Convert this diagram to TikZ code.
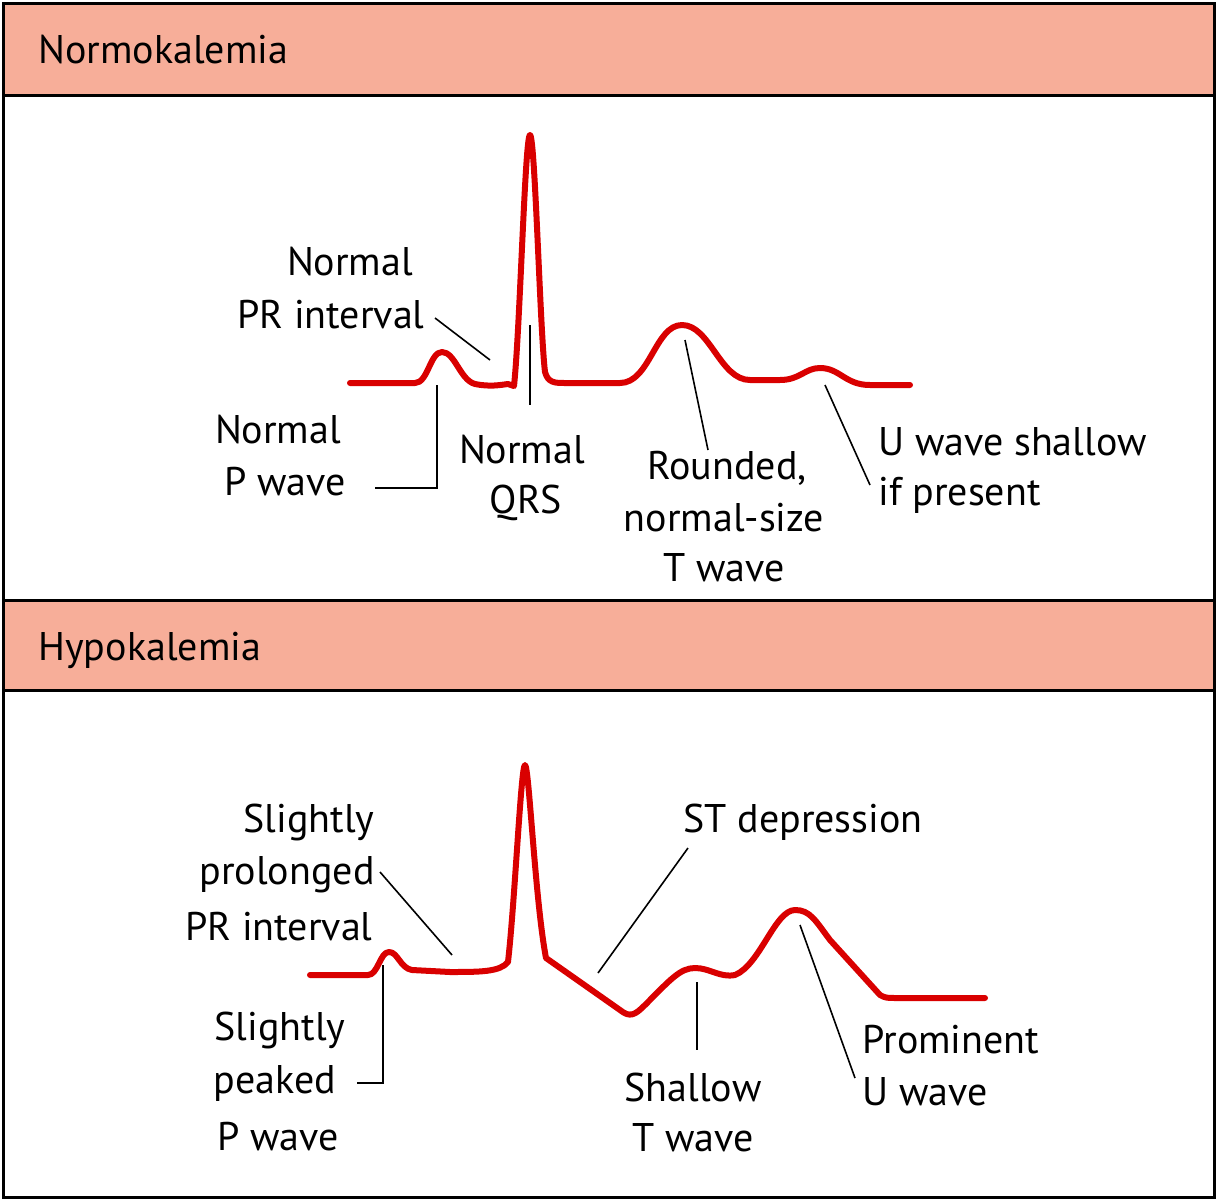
\documentclass[tikz,border=0pt]{standalone}
\usepackage{fontspec}
\setmainfont{PT Sans}
\begin{document}
\begin{tikzpicture}[x=0.5pt,y=-0.5pt,
 lbl/.style={font=\fontsize{20}{22}\selectfont,inner sep=0pt},
 ecg/.style={draw=red!85!black,line width=3pt,line join=round,line cap=round},
 lead/.style={draw=black,line width=0.8pt},
 head/.style={fill=salmon,draw=black,line width=1.5pt}]
\definecolor{salmon}{HTML}{F7AE99}
\useasboundingbox (0,0) rectangle (1217,1200);
\fill[white] (0,0) rectangle (1217,1200);
\draw[head] (3,3) rectangle (1214,95);
\draw[black,line width=1.5pt] (3,95) rectangle (1214,600);
\draw[head] (3,600) rectangle (1214,690);
\draw[black,line width=1.5pt] (3,690) rectangle (1214,1197);
\node[lbl,anchor=west] (h1) at (38,50) {Normokalemia};
\node[lbl,anchor=west] (h2) at (38,650) {Hypokalemia};
% normal ECG
\draw[ecg] (350,383) -- (415,383) .. controls (428,383) and (430,352) .. (442,352)
 .. controls (455,352) and (460,380) .. (475,384) .. controls (490,387) and (500,385) .. (508,384)
 -- (514,386) .. controls (520,330) and (525,135) .. (530,135) .. controls (535,135) and (540,330) .. (545,372)
 .. controls (548,383) and (555,383) .. (565,383) -- (620,383)
 .. controls (650,383) and (655,325) .. (682,325) .. controls (710,325) and (720,380) .. (750,380)
 -- (780,380) .. controls (800,380) and (805,368) .. (820,368) .. controls (840,368) and (845,385) .. (870,385) -- (910,385);
\coordinate (pr) at (490,360); \coordinate (qrs) at (530,325); \coordinate (pw) at (437,385);
\coordinate (tw) at (685,340); \coordinate (uw) at (825,385);
\node[lbl] (n1) at (350,262) {Normal};
\node[lbl,anchor=east] (n2) at (425,315) {PR interval};
\draw[lead] (435,318) -- (pr);
\draw[lead] (qrs) -- (530,405);
\node[lbl] (n3) at (278,430) {Normal};
\node[lbl] (n4) at (285,482) {P wave};
\draw[lead] (375,488) -- (437,488) -- (pw);
\node[lbl] (n5) at (522,450) {Normal};
\node[lbl] (n6) at (526,503) {QRS};
\node[lbl] (n7) at (727,468) {Rounded,};
\node[lbl] (n8) at (724,518) {normal-size};
\node[lbl] (n9) at (724,568) {T wave};
\draw[lead] (tw) -- (708,450);
\node[lbl,anchor=west] (n10) at (878,442) {U wave shallow};
\node[lbl,anchor=west] (n11) at (878,495) {if present};
\draw[lead] (uw) -- (870,485);
% hypo ECG
\draw[ecg] (310,975) -- (368,975) .. controls (378,975) and (380,952) .. (389,952)
 .. controls (398,952) and (400,968) .. (412,970) -- (450,972) .. controls (480,972) and (500,972) .. (508,962)
 .. controls (515,900) and (521,765) .. (525,765) .. controls (529,765) and (535,900) .. (546,958)
 -- (620,1010) .. controls (630,1018) and (635,1015) .. (645,1005)
 .. controls (670,980) and (680,968) .. (695,968) .. controls (710,968) and (720,978) .. (735,975)
 .. controls (760,965) and (775,910) .. (795,910) .. controls (810,910) and (815,920) .. (830,940)
 -- (880,995) .. controls (885,998) and (888,998) .. (895,998) -- (985,998);
\coordinate (hpr) at (452,955); \coordinate (hpw) at (383,965); \coordinate (hst) at (598,973);
\coordinate (htw) at (697,982); \coordinate (huw) at (800,925);
\node[lbl,anchor=east] (m1) at (375,822) {Slightly};
\node[lbl,anchor=east] (m2) at (375,875) {prolonged};
\node[lbl,anchor=east] (m3) at (373,927) {PR interval};
\draw[lead] (380,872) -- (hpr);
\node[lbl] (m4) at (280,1030) {Slightly};
\node[lbl] (m5) at (275,1083) {peaked};
\node[lbl] (m6) at (278,1137) {P wave};
\draw[lead] (357,1083) -- (383,1083) -- (hpw);
\node[lbl,anchor=west] (m7) at (683,822) {ST depression};
\draw[lead] (688,848) -- (hst);
\node[lbl] (m8) at (693,1087) {Shallow};
\node[lbl] (m9) at (693,1138) {T wave};
\draw[lead] (htw) -- (697,1050);
\node[lbl,anchor=west] (m10) at (862,1040) {Prominent};
\node[lbl,anchor=west] (m11) at (862,1092) {U wave};
\draw[lead] (huw) -- (855,1078);
\end{tikzpicture}
\end{document}
